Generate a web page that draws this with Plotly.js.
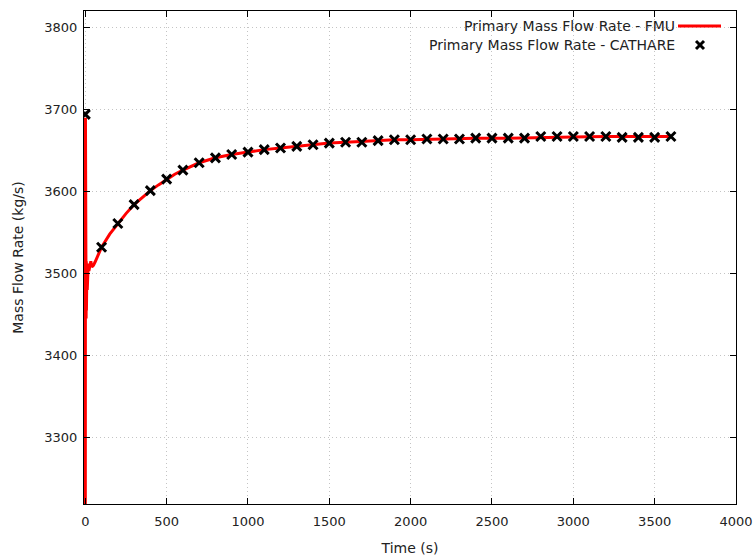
<!DOCTYPE html>
<html>
<head>
<meta charset="utf-8">
<script src="https://cdn.plot.ly/plotly-3.0.1.min.js"></script>
<style>html,body{margin:0;padding:0;background:#fff;}#chart{width:756px;height:556px;}</style>
</head>
<body>
<div id="chart"></div>
<script>
// FMU simulation (continuous line)
const fmuTime = [0, 1, 2, 3, 4, 5, 6, 7, 8, 9, 10, 12, 14, 16, 18, 22, 28, 34, 40, 50, 60, 70, 85, 100,
  150, 200, 250, 300, 350, 400, 450, 500, 550, 600, 650, 700, 800, 900, 1000, 1100, 1200, 1300, 1400,
  1500, 1600, 1700, 1800, 1900, 2000, 2200, 2400, 2600, 2800, 3000, 3200, 3400, 3600];
const fmuFlow = [3100, 3690, 3685, 3440, 3520, 3445, 3515, 3455, 3512, 3465, 3510, 3480, 3508, 3490, 3512, 3503, 3508, 3515, 3508, 3510, 3514, 3519, 3525, 3532,
  3548, 3561, 3573, 3584, 3593, 3601, 3608, 3615, 3621, 3626, 3631, 3635, 3641, 3645, 3648, 3651, 3653, 3655, 3657,
  3659, 3660, 3661, 3662, 3663, 3663, 3664, 3665, 3665, 3666, 3666.5, 3667, 3667, 3667];

// CATHARE reference (markers every 100 s)
const cathareTime = [0, 100, 200, 300, 400, 500, 600, 700, 800, 900, 1000, 1100, 1200, 1300, 1400, 1500, 1600, 1700, 1800,
  1900, 2000, 2100, 2200, 2300, 2400, 2500, 2600, 2700, 2800, 2900, 3000, 3100, 3200, 3300, 3400, 3500, 3600];
const cathareFlow = [3694, 3532, 3561, 3584, 3601, 3615, 3626, 3635, 3641, 3645, 3648, 3651, 3653, 3655, 3657, 3659, 3660, 3660, 3662,
  3663, 3663, 3664, 3664, 3664, 3665, 3665, 3665, 3665, 3667, 3667, 3667, 3667, 3667, 3666, 3666, 3666, 3667];

const xTicks = [0, 500, 1000, 1500, 2000, 2500, 3000, 3500, 4000];
const yTicks = [3300, 3400, 3500, 3600, 3700, 3800];
const legendLabels = ["Primary Mass Flow Rate - FMU", "Primary Mass Flow Rate - CATHARE"];

const txt = '#222';
const fontFam = '"DejaVu Sans", sans-serif';

const traces = [
  {x: fmuTime, y: fmuFlow, type: 'scatter', mode: 'lines', name: legendLabels[0],
   line: {color: '#ff0000', width: 3}, showlegend: false},
  {x: cathareTime, y: cathareFlow, type: 'scatter', mode: 'markers', name: legendLabels[1],
   marker: {symbol: 'x-thin', size: 9, color: '#000', line: {color: '#000', width: 3}}, showlegend: false}
];

// legend geometry (paper coords)
const L = 84, W = 652, B = 504, H = 493;
const px = v => (v - L) / W;
const py = v => (B - v) / H;

const gridStyle = {showgrid: true, gridcolor: '#c4c4c4', griddash: '1px,3px', gridwidth: 1};

const layout = {
  width: 756, height: 556,
  margin: {l: 84, r: 20, t: 11, b: 52},
  paper_bgcolor: '#fff', plot_bgcolor: '#fff',
  font: {family: fontFam, size: 13, color: txt},
  xaxis: Object.assign({
    range: [-8, 4000], tickvals: xTicks, ticktext: xTicks.map(String),
    ticks: 'inside', ticklen: 6, tickcolor: '#000', tickwidth: 1,
    showline: true, linecolor: '#000', linewidth: 1, mirror: 'ticks',
    zeroline: false, tickfont: {size: 13, color: txt}, ticklabelstandoff: 5,
    title: {text: 'Time (s)', font: {size: 14, color: txt}, standoff: 16}
  }, gridStyle),
  yaxis: Object.assign({
    range: [3219, 3820], tickvals: yTicks, ticktext: yTicks.map(String),
    ticks: 'inside', ticklen: 6, tickcolor: '#000', tickwidth: 1,
    showline: true, linecolor: '#000', linewidth: 1, mirror: 'ticks',
    zeroline: false, tickfont: {size: 13, color: txt}, ticklabelstandoff: 3,
    title: {text: 'Mass Flow Rate (kg/s)', font: {size: 14, color: txt}, standoff: 17}
  }, gridStyle),
  showlegend: false,
  annotations: [
    {xref: 'paper', yref: 'paper', x: px(677), y: py(26), xanchor: 'right', yanchor: 'middle',
     text: legendLabels[0], showarrow: false, font: {size: 14, color: txt}},
    {xref: 'paper', yref: 'paper', x: px(677), y: py(45), xanchor: 'right', yanchor: 'middle',
     text: legendLabels[1], showarrow: false, font: {size: 14, color: txt}}
  ],
  shapes: [
    {type: 'line', xref: 'paper', yref: 'paper', x0: px(678), x1: px(721), y0: py(26), y1: py(26),
     line: {color: '#ff0000', width: 3}},
    {type: 'line', xref: 'paper', yref: 'paper', x0: px(696), x1: px(704), y0: py(41), y1: py(49),
     line: {color: '#000', width: 3}},
    {type: 'line', xref: 'paper', yref: 'paper', x0: px(696), x1: px(704), y0: py(49), y1: py(41),
     line: {color: '#000', width: 3}}
  ]
};

Plotly.newPlot('chart', traces, layout, {displayModeBar: false, staticPlot: true});
</script>
</body>
</html>
